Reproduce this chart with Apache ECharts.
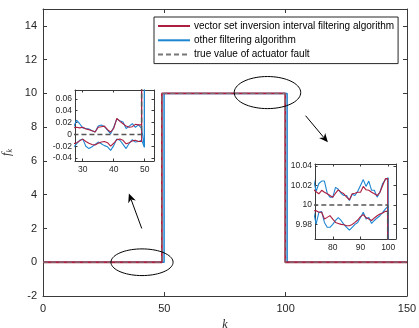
<!DOCTYPE html>
<html><head><meta charset="utf-8">
<script src="https://cdn.jsdelivr.net/npm/echarts@6/dist/echarts.min.js"></script>
<style>html,body{margin:0;padding:0;background:#fff}#c{width:419px;height:328px}</style>
</head><body><div id="c"></div>
<script>
// ---------- labels / ticks ----------
const legendNames = ['vector set inversion interval filtering algorithm', 'other filtering algorithm', 'true value of actuator fault'];
const mainXTicks = [0, 50, 100, 150];
const mainYTicks = [-2, 0, 2, 4, 6, 8, 10, 12, 14];
const inset1XTicks = [30, 40, 50];
const inset1YTicks = [-0.04, -0.02, 0, 0.02, 0.04, 0.06];
const inset2XTicks = [80, 90, 100];
const inset2YTicks = [9.98, 10, 10.02, 10.04];

// ---------- main plot (step levels) ----------
const redMainK  = [0, 49, 49, 99.8, 99.8, 150];
const redMainV  = [0, 0, 10, 10, 0, 0];
const blueMainK = [0, 49.9, 49.9, 100.6, 100.6, 150];
const blueMainV = [0, 0, 10, 10, 0, 0];
const trueK     = [0, 49, 49, 99.8, 99.8, 150];
const trueV     = [0, 0, 10, 10, 0, 0];

// ---------- inset 1 (around k = 27..50) ----------
const in1RedK   = [27,28,29,30,31,32,33,34,35,36,37,38,39,40,41,42,43,44,45,46,47,48,49,49];
const in1RedUp  = [0.011,0.012,0.011,0.012,0.009,0.008,0.006,0.004,0.012,0.013,0.014,0.008,0.004,0.010,0.027,0.022,0.018,0.014,0.012,0.013,0.017,0.016,0.016,10.01];
const in1RedLo  = [-0.016,-0.014,-0.011,-0.008,-0.012,-0.015,-0.017,-0.018,-0.015,-0.013,-0.012,-0.014,-0.020,-0.015,-0.009,-0.008,-0.010,-0.016,-0.014,-0.011,-0.010,-0.012,-0.012,9.99];
const in1BlueK  = [27,28,29,30,31,32,33,34,35,36,37,38,39,40,41,42,43,44,45,46,47,48,49,49.9,49.9];
const in1BlueUp = [0.012,0.024,0.018,0.011,0.010,0.009,0.006,0.004,0.014,0.016,0.013,0.007,0.001,0.012,0.026,0.023,0.021,0.010,0.014,0.018,0.012,0.016,0.010,-0.021,10.02];
const in1BlueLo = [-0.022,-0.016,-0.010,-0.008,-0.020,-0.024,-0.021,-0.017,-0.013,-0.016,-0.019,-0.021,-0.027,-0.019,-0.008,-0.010,-0.017,-0.024,-0.015,-0.009,-0.013,-0.012,-0.010,-0.022,9.98];
const in1TrueK  = [27, 49, 49];
const in1TrueV  = [0, 0, 10];

// ---------- inset 2 (around k = 73..101) ----------
const in2RedK   = [73,74,75,76,77,78,79,80,81,82,83,84,85,86,87,88,89,90,91,92,93,94,95,96,97,98,99,99.8,99.8];
const in2RedUp  = [10.016,10.0135,10.0114,10.015,10.013,10.0114,10.0096,10.0079,10.012,10.0155,10.0131,10.0114,10.0079,10.0052,10.0114,10.012,10.013,10.013,10.019,10.0155,10.015,10.013,10.0114,10.0096,10.013,10.020,10.027,10.027,0];
const in2RedLo  = [9.994,9.9941,9.9924,9.9924,9.9855,9.9872,9.989,9.9855,9.982,9.981,9.980,9.9796,9.9786,9.9786,9.980,9.982,9.9845,9.988,9.990,9.987,9.9855,9.984,9.9866,9.9889,9.9907,9.9917,9.9934,9.9934,0];
const in2BlueK  = [73,74,75,76,77,78,79,80,81,82,83,84,85,86,87,88,89,90,91,92,93,94,95,96,97,98,99,100,100.6,100.6];
const in2BlueUp = [10.027,10.014,10.022,10.0245,10.0245,10.012,10.008,10.008,10.018,10.016,10.012,10.0096,10.0096,10.0045,10.011,10.0096,10.014,10.020,10.026,10.019,10.0245,10.015,10.015,10.008,10.013,10.022,10.026,10.028,10.028,0];
const in2BlueLo = [9.9941,9.9803,9.9924,9.9931,9.982,9.977,9.977,9.980,9.984,9.987,9.984,9.980,9.977,9.974,9.977,9.980,9.982,9.987,9.9924,9.9855,9.987,9.981,9.984,9.9866,9.9889,9.9924,9.996,9.9986,9.9986,0];
const in2TrueK  = [73, 99.8, 99.8];
const in2TrueV  = [10, 10, 0];

// ---------- styling ----------
const RED = '#ad1f3f', BLUE = '#1d86d2', GRAY = '#555555', AX = '#3a3a3a', TXT = '#262626';
const FONT = 'Liberation Sans, Arial, Helvetica, sans-serif';

const zip = (a, b) => a.map((v, i) => [v, b[i]]);
const fmt = v => String(Math.round(v * 10000) / 10000);

function boxAxes(gi, xr, yr, xt, yt, fs, xm, ym, tl) {
  const line = { show: true, onZero: false, lineStyle: { color: AX, width: 1 } };
  const common = { type: 'value', gridIndex: gi, axisLine: line, splitLine: { show: false } };
  const x1 = Object.assign({}, common, { position: 'bottom', min: xr[0], max: xr[1],
    axisTick: { show: true, inside: true, length: tl, customValues: xt, lineStyle: { color: AX } },
    axisLabel: { show: true, customValues: xt, formatter: fmt, color: TXT, fontSize: fs, fontFamily: FONT, margin: xm } });
  const x2 = Object.assign({}, common, { position: 'top', min: xr[0], max: xr[1],
    axisTick: { show: true, inside: true, length: tl, customValues: xt, lineStyle: { color: AX } }, axisLabel: { show: false } });
  const y1 = Object.assign({}, common, { position: 'left', min: yr[0], max: yr[1],
    axisTick: { show: true, inside: true, length: tl, customValues: yt, lineStyle: { color: AX } },
    axisLabel: { show: true, customValues: yt, formatter: fmt, color: TXT, fontSize: fs, fontFamily: FONT, margin: ym } });
  const y2 = Object.assign({}, common, { position: 'right', min: yr[0], max: yr[1],
    axisTick: { show: true, inside: true, length: tl, customValues: yt, lineStyle: { color: AX } }, axisLabel: { show: false } });
  return { x: [x1, x2], y: [y1, y2] };
}

const A0 = boxAxes(0, [0, 150], [-2, 15], mainXTicks, mainYTicks, 11, 7, 6, 4);
const A1 = boxAxes(1, [27.5, 53], [-0.045, 0.075], inset1XTicks, inset1YTicks, 8.5, 4, 3, 2.5);
const A2 = boxAxes(2, [73.6, 102.8], [9.965, 10.042], inset2XTicks, inset2YTicks, 8.5, 4, 3, 2.5);

A0.x[0].name = 'k';
A0.x[0].nameLocation = 'middle';
A0.x[0].nameGap = 22;
A0.x[0].nameTextStyle = { fontFamily: 'Liberation Serif, DejaVu Serif, serif', fontStyle: 'italic', fontSize: 12, color: TXT };
A0.y[0].name = '{f|f}{k|k}';
A0.y[0].nameLocation = 'middle';
A0.y[0].nameGap = 22;
A0.y[0].nameRotate = 90;
A0.y[0].nameTextStyle = { rich: {
  f: { fontFamily: 'Liberation Serif, DejaVu Serif, serif', fontStyle: 'italic', fontSize: 12, color: TXT },
  k: { fontFamily: 'Liberation Serif, DejaVu Serif, serif', fontStyle: 'italic', fontSize: 8, color: TXT, verticalAlign: 'bottom', padding: [6, 0, 0, 0] } } };

const xAxes = [...A0.x, ...A1.x, ...A2.x];
const yAxes = [...A0.y, ...A1.y, ...A2.y];

function ln(name, xi, yi, data, color, width, dashed, z) {
  return { name, type: 'line', xAxisIndex: xi, yAxisIndex: yi, data, symbol: 'none', showSymbol: false, animation: false,
    lineStyle: { color, width, type: dashed ? [5, 3] : 'solid' }, itemStyle: { color }, z: z || 2, silent: true };
}

const series = [
  ln(legendNames[1], 0, 0, zip(blueMainK, blueMainV), BLUE, 1.5),
  ln(legendNames[0], 0, 0, zip(redMainK, redMainV), RED, 1.8),
  ln(legendNames[2], 0, 0, zip(trueK, trueV), '#777777', 1, true),
  ln('b1u', 2, 2, zip(in1BlueK, in1BlueUp), BLUE, 1.1),
  ln('b1l', 2, 2, zip(in1BlueK, in1BlueLo), BLUE, 1.1),
  ln('r1u', 2, 2, zip(in1RedK, in1RedUp), RED, 1.1),
  ln('r1l', 2, 2, zip(in1RedK, in1RedLo), RED, 1.1),
  ln('t1', 2, 2, zip(in1TrueK, in1TrueV), GRAY, 1.5, true),
  ln('b2u', 4, 4, zip(in2BlueK, in2BlueUp), BLUE, 1.1),
  ln('b2l', 4, 4, zip(in2BlueK, in2BlueLo), BLUE, 1.1),
  ln('r2u', 4, 4, zip(in2RedK, in2RedUp), RED, 1.1),
  ln('r2l', 4, 4, zip(in2RedK, in2RedLo), RED, 1.1),
  ln('t2', 4, 4, zip(in2TrueK, in2TrueV), GRAY, 1.5, true)
];

const chart = echarts.init(document.getElementById('c'), null, { renderer: 'canvas' });
chart.setOption({
  backgroundColor: '#fff',
  animation: false,
  grid: [
    { left: 43, right: 12, top: 9, bottom: 32, outerBoundsMode: 'none', containLabel: false },
    { left: 75, width: 79, top: 90, height: 71, show: true, backgroundColor: '#fff', borderWidth: 0, outerBoundsMode: 'none', containLabel: false },
    { left: 315, width: 81, top: 164, height: 75, show: true, backgroundColor: '#fff', borderWidth: 0, outerBoundsMode: 'none', containLabel: false }
  ],
  xAxis: xAxes,
  yAxis: yAxes,
  legend: {
    data: legendNames, orient: 'vertical', left: 154, top: 17, itemWidth: 32, itemHeight: 10, itemGap: 4.3,
    padding: [4, 4, 4, 3], borderColor: '#262626', borderWidth: 1, backgroundColor: '#fff', selectedMode: false,
    itemStyle: { opacity: 0 },
    textStyle: { fontSize: 10, fontFamily: FONT, color: '#000', padding: [0, 0, 0, -1] }, z: 10
  },
  series
});

// ---------- annotations (ellipses and arrows in data coordinates of the main axes) ----------
const ellipses = [ { c: [40.8, 0.0], rx: 12.8, ry: 0.79 }, { c: [92.5, 10.05], rx: 13.7, ry: 0.95 } ];
const arrows = [ { from: [40.7, 2.0], to: [35.4, 4.07] }, { from: [108.2, 8.68], to: [117.4, 7.1] } ];

function px(p) { return chart.convertToPixel({ xAxisIndex: 0, yAxisIndex: 0 }, p); }
const g = [];
ellipses.forEach(e => {
  const c = px(e.c), ex = px([e.c[0] + e.rx, e.c[1]]), ey = px([e.c[0], e.c[1] + e.ry]);
  const rx = Math.abs(ex[0] - c[0]), ry = Math.abs(ey[1] - c[1]);
  const pts = [];
  for (let i = 0; i < 72; i++) { const t = i / 72 * Math.PI * 2; pts.push([c[0] + rx * Math.cos(t), c[1] + ry * Math.sin(t)]); }
  g.push({ type: 'polygon', shape: { points: pts }, style: { fill: 'none', stroke: '#000', lineWidth: 1 }, z: 20 });
});
arrows.forEach(a => {
  const p0 = px(a.from), p1 = px(a.to);
  const dx = p1[0] - p0[0], dy = p1[1] - p0[1], L = Math.hypot(dx, dy), ux = dx / L, uy = dy / L;
  const hl = 9, hw = 4;
  const bx = p1[0] - ux * hl, by = p1[1] - uy * hl;
  const ix = p1[0] - ux * hl * 0.7, iy = p1[1] - uy * hl * 0.7;
  g.push({ type: 'line', shape: { x1: p0[0], y1: p0[1], x2: ix, y2: iy }, style: { stroke: '#000', lineWidth: 1 }, z: 20 });
  g.push({ type: 'polygon', shape: { points: [[p1[0], p1[1]], [bx - uy * hw, by + ux * hw], [ix, iy], [bx + uy * hw, by - ux * hw]] }, style: { fill: '#000' }, z: 20 });
});
chart.setOption({ graphic: g });
</script>
</body></html>
